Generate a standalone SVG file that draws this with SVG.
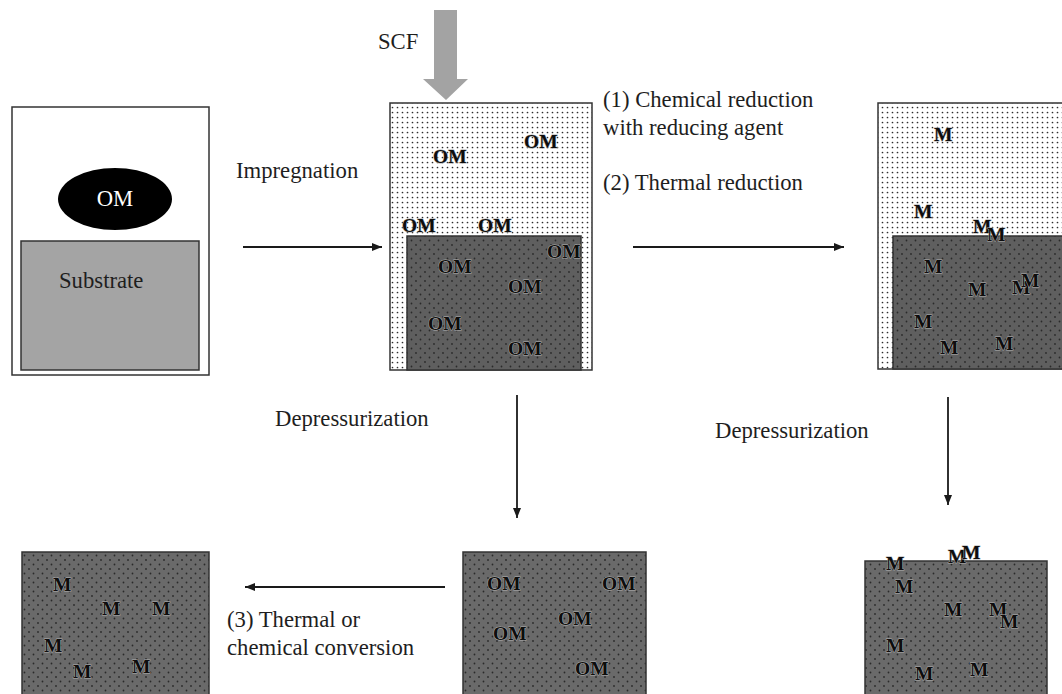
<svg xmlns="http://www.w3.org/2000/svg" width="1062" height="694" viewBox="0 0 1062 694">
<defs>
<pattern id="lightDots" x="0" y="0" width="5" height="5" patternUnits="userSpaceOnUse">
<rect width="5" height="5" fill="#ffffff"/>
<circle cx="2.5" cy="2.5" r="0.85" fill="#2e2e2e"/>
</pattern>
<pattern id="darkDots" x="0" y="0" width="9" height="9" patternUnits="userSpaceOnUse">
<rect width="9" height="9" fill="#5f5f5f"/>
<circle cx="2" cy="2" r="0.9" fill="#2a2a2a"/>
<circle cx="6.5" cy="6.5" r="0.9" fill="#2a2a2a"/>
</pattern>
<pattern id="darkDots2" x="0" y="0" width="9" height="9" patternUnits="userSpaceOnUse">
<rect width="9" height="9" fill="#6a6a6a"/>
<circle cx="2" cy="2" r="0.9" fill="#2a2a2a"/>
<circle cx="6.5" cy="6.5" r="0.9" fill="#2a2a2a"/>
</pattern>
<marker id="ah" viewBox="0 0 10 10" refX="10" refY="5" markerWidth="10" markerHeight="10" markerUnits="userSpaceOnUse" orient="auto">
<path d="M0,1 L10,5 L0,9 Z" fill="#1a1a1a"/>
</marker>
<style>
.lbl{font-family:"Liberation Serif","Times New Roman",serif;font-size:22.7px;fill:#1e1e1e;}
.om{font-family:"Liberation Serif","Times New Roman",serif;font-size:19.5px;font-weight:bold;fill:#0d0d0d;stroke:#b0b0b0;stroke-width:0.9px;paint-order:stroke;}
.frame{stroke:#333;stroke-width:1.5;}
.conn{stroke:#1a1a1a;stroke-width:1.8;fill:none;marker-end:url(#ah);}
</style>
</defs>
<rect width="1062" height="694" fill="#ffffff"/>

<g id="scf">
<path d="M434,10 H457 V79 H468 L446,100 L423,79 H434 Z" fill="#a3a3a3"/>
<text class="lbl" x="378" y="49">SCF</text>
</g>

<g id="panel-start">
<rect class="frame" x="12" y="107" width="197" height="268" fill="#ffffff"/>
<ellipse cx="115" cy="199" rx="57" ry="31" fill="#000"/>
<text class="lbl" x="115" y="206" text-anchor="middle" style="fill:#fff">OM</text>
<rect class="frame" x="21" y="241" width="178" height="129" fill="#a4a4a4"/>
<text class="lbl" x="59" y="288">Substrate</text>
</g>

<g id="panel-impregnated">
<rect class="frame" x="390" y="103" width="202" height="267" fill="url(#lightDots)"/>
<rect class="frame" x="407" y="236" width="174" height="134" fill="url(#darkDots)"/>
<text class="om" x="433" y="163">OM</text>
<text class="om" x="524" y="148">OM</text>
<text class="om" x="402" y="232">OM</text>
<text class="om" x="478" y="232">OM</text>
<text class="om" x="547" y="258">OM</text>
<text class="om" x="438" y="273">OM</text>
<text class="om" x="508" y="293">OM</text>
<text class="om" x="428" y="330">OM</text>
<text class="om" x="508" y="355">OM</text>
</g>

<g id="panel-reduced">
<rect class="frame" x="878" y="103" width="200" height="266" fill="url(#lightDots)"/>
<rect class="frame" x="893" y="236" width="185" height="133" fill="url(#darkDots)"/>
<text class="om" x="934" y="141">M</text>
<text class="om" x="914" y="218">M</text>
<text class="om" x="973" y="233">M</text>
<text class="om" x="987" y="241">M</text>
<text class="om" x="924" y="273">M</text>
<text class="om" x="968" y="296">M</text>
<text class="om" x="1012" y="294">M</text>
<text class="om" x="1021" y="287">M</text>
<text class="om" x="914" y="328">M</text>
<text class="om" x="940" y="354">M</text>
<text class="om" x="995" y="350">M</text>
</g>

<g id="panel-converted">
<rect class="frame" x="22" y="552" width="187" height="160" fill="url(#darkDots2)"/>
<text class="om" x="53" y="591">M</text>
<text class="om" x="102" y="615">M</text>
<text class="om" x="152" y="615">M</text>
<text class="om" x="44" y="652">M</text>
<text class="om" x="73" y="678">M</text>
<text class="om" x="132" y="673">M</text>
</g>

<g id="panel-depressurized-om">
<rect class="frame" x="463" y="552" width="183" height="160" fill="url(#darkDots2)"/>
<text class="om" x="487" y="590">OM</text>
<text class="om" x="602" y="590">OM</text>
<text class="om" x="558" y="625">OM</text>
<text class="om" x="493" y="640">OM</text>
<text class="om" x="575" y="675">OM</text>
</g>

<g id="panel-depressurized-m">
<rect class="frame" x="865" y="561" width="182" height="150" fill="url(#darkDots2)"/>
<text class="om" x="886" y="570">M</text>
<text class="om" x="948" y="563">M</text>
<text class="om" x="962" y="559">M</text>
<text class="om" x="895" y="593">M</text>
<text class="om" x="944" y="616">M</text>
<text class="om" x="989" y="616">M</text>
<text class="om" x="1000" y="628">M</text>
<text class="om" x="886" y="652">M</text>
<text class="om" x="915" y="680">M</text>
<text class="om" x="970" y="676">M</text>
</g>

<g id="connectors">
<line class="conn" x1="243" y1="247" x2="382" y2="247"/>
<line class="conn" x1="633" y1="247" x2="844" y2="247"/>
<line class="conn" x1="517" y1="395" x2="517" y2="518"/>
<line class="conn" x1="948" y1="397" x2="948" y2="505"/>
<line class="conn" x1="445" y1="587" x2="245" y2="587"/>
</g>

<g id="labels">
<text class="lbl" x="236" y="178">Impregnation</text>
<text class="lbl" x="603" y="107">(1) Chemical reduction</text>
<text class="lbl" x="603" y="135">with reducing agent</text>
<text class="lbl" x="603" y="190">(2) Thermal reduction</text>
<text class="lbl" x="275" y="426">Depressurization</text>
<text class="lbl" x="715" y="438">Depressurization</text>
<text class="lbl" x="227" y="627">(3) Thermal or</text>
<text class="lbl" x="227" y="655">chemical conversion</text>
</g>
</svg>
